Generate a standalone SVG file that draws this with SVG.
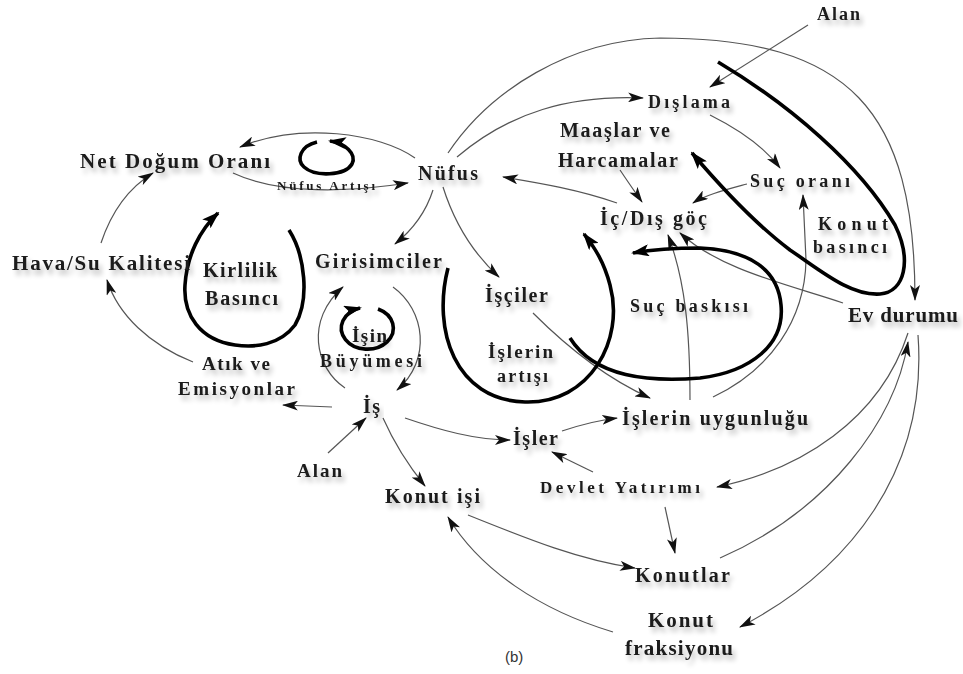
<svg xmlns="http://www.w3.org/2000/svg" width="963" height="674" viewBox="0 0 963 674">
<style>
.lbl{font-family:"Liberation Serif","Times New Roman",serif;font-weight:bold;fill:#1a1a1a;filter:url(#sh)}
.thin{fill:none;stroke:#555;stroke-width:1.2;marker-end:url(#ah)}
.thick{fill:none;stroke:#000;stroke-width:3.6;marker-end:url(#ahb)}
.cap{font-family:"Liberation Sans",Arial,sans-serif;font-size:15px;fill:#333}
</style>
<defs>
<filter id="sh" x="-10%" y="-30%" width="130%" height="190%">
<feGaussianBlur in="SourceAlpha" stdDeviation="2.5" result="b"/>
<feOffset dx="3" dy="5" result="o"/>
<feComponentTransfer in="o" result="c"><feFuncA type="linear" slope="0.25"/></feComponentTransfer>
<feMerge><feMergeNode in="c"/><feMergeNode in="SourceGraphic"/></feMerge>
</filter>
<marker id="ah" viewBox="0 0 16 10" refX="15" refY="5" markerWidth="16" markerHeight="10" markerUnits="userSpaceOnUse" orient="auto">
<path d="M0,0 L16,5 L0,10 L4,5 z" fill="#111"/>
</marker>
<marker id="ahb" viewBox="0 0 18 12" refX="16" refY="6" markerWidth="18" markerHeight="12" markerUnits="userSpaceOnUse" orient="auto">
<path d="M0,0 L18,6 L0,12 L4,6 z" fill="#000"/>
</marker>
</defs>
<rect width="963" height="674" fill="#fff"/>

<g id="connectors">
<path class="thin" d="M415,158 C380,133 300,122 240,147"/>
<path class="thin" d="M233,173 C280,195 350,192 408,183"/>
<path class="thin" d="M101,243 C112,210 130,187 153,173"/>
<path class="thin" d="M193,362 C150,345 118,315 107,280"/>
<path class="thin" d="M332,407 L283,405"/>
<path class="thin" d="M345,388 C315,368 305,320 343,287"/>
<path class="thin" d="M393,287 C425,310 432,360 397,390"/>
<path class="thin" d="M433,190 C425,215 410,232 395,244"/>
<path class="thin" d="M443,187 C455,225 475,255 499,277"/>
<path class="thin" d="M457,157 C510,112 570,95 643,98"/>
<path class="thin" d="M448,153 C490,90 570,40 660,38 C850,38 915,110 915,300"/>
<path class="thin" d="M808,25 L710,87"/>
<path class="thin" d="M710,115 C740,130 765,148 780,168"/>
<path class="thin" d="M747,184 C725,190 705,195 693,203"/>
<path class="thin" d="M620,170 C628,182 635,192 642,202"/>
<path class="thin" d="M617,203 C580,190 540,183 503,177"/>
<path class="thin" d="M533,313 C570,350 610,380 650,398"/>
<path class="thin" d="M405,418 C440,430 475,440 510,440"/>
<path class="thin" d="M562,431 C580,425 600,420 617,418"/>
<path class="thin" d="M593,472 L552,452"/>
<path class="thin" d="M383,418 C395,445 408,465 425,486"/>
<path class="thin" d="M328,453 L366,418"/>
<path class="thin" d="M468,515 C530,540 580,560 635,568"/>
<path class="thin" d="M613,632 C540,610 480,570 448,517"/>
<path class="thin" d="M665,507 L675,553"/>
<path class="thin" d="M908,333 C880,420 800,470 717,487"/>
<path class="thin" d="M720,558 C830,510 895,420 908,342"/>
<path class="thin" d="M918,335 C928,470 850,570 740,627"/>
<path class="thin" d="M843,303 C790,285 720,270 680,233"/>
<path class="thin" d="M690,400 C690,330 685,280 668,235"/>
<path class="thin" d="M713,397 C770,370 805,320 806,260 L803,195"/>

<path class="thick" d="M289,230 C305,255 310,300 295,325 C280,345 255,348 235,345 C200,340 183,315 185,285 C187,255 200,230 218,213"/>
<path class="thick" d="M317,142 C300,146 296,160 304,167 C315,177 345,176 352,164 C357,154 345,143 330,141"/>
<path class="thick" d="M378,309 A26,21 0 1 1 360,308"/>
<path class="thick" d="M718,62 C790,105 860,165 895,225 C912,260 905,292 880,294 C850,296 820,270 790,250 C750,220 715,180 692,153"/>
<path class="thick" d="M570,338 C595,378 650,382 700,378 C750,372 785,345 781,305 C778,270 750,250 700,248 C670,248 650,250 633,253"/>
<path class="thick" d="M448,268 C432,330 455,400 525,402 C590,404 625,340 610,285 C604,262 595,248 584,234"/>
</g>

<g id="alan-top"><text class="lbl" x="817" y="20" font-size="18" textLength="43" lengthAdjust="spacing">Alan</text></g>
<g id="dislama"><text class="lbl" x="648" y="108" font-size="18" textLength="82" lengthAdjust="spacing">Dışlama</text></g>
<g id="maaslar"><text class="lbl" x="560" y="137" font-size="20" textLength="110" lengthAdjust="spacing">Maaşlar ve</text><text class="lbl" x="558" y="167" font-size="20" textLength="120" lengthAdjust="spacing">Harcamalar</text></g>
<g id="net-dogum"><text class="lbl" x="80" y="168" font-size="21" textLength="190" lengthAdjust="spacing">Net Doğum Oranı</text></g>
<g id="nufus-artisi"><text class="lbl" x="277" y="190" font-size="13" textLength="98" lengthAdjust="spacing">Nüfus Artışı</text></g>
<g id="nufus"><text class="lbl" x="418" y="180" font-size="20" textLength="60" lengthAdjust="spacing">Nüfus</text></g>
<g id="suc-orani"><text class="lbl" x="750" y="187" font-size="18" textLength="100" lengthAdjust="spacing">Suç oranı</text></g>
<g id="ic-dis-goc"><text class="lbl" x="600" y="225" font-size="20" textLength="107" lengthAdjust="spacing">İç/Dış göç</text></g>
<g id="konut-basinci"><text class="lbl" x="818" y="230" font-size="18" textLength="70" lengthAdjust="spacing">Konut</text><text class="lbl" x="813" y="253" font-size="18" textLength="74" lengthAdjust="spacing">basıncı</text></g>
<g id="hava-su"><text class="lbl" x="12" y="270" font-size="21" textLength="178" lengthAdjust="spacing">Hava/Su Kalitesi</text></g>
<g id="kirlilik"><text class="lbl" x="203" y="277" font-size="20" textLength="74" lengthAdjust="spacing">Kirlilik</text><text class="lbl" x="205" y="305" font-size="20" textLength="73" lengthAdjust="spacing">Basıncı</text></g>
<g id="girisimciler"><text class="lbl" x="315" y="268" font-size="20" textLength="127" lengthAdjust="spacing">Girisimciler</text></g>
<g id="isciler"><text class="lbl" x="485" y="302" font-size="20" textLength="63" lengthAdjust="spacing">İşçiler</text></g>
<g id="suc-baskisi"><text class="lbl" x="630" y="312" font-size="18" textLength="118" lengthAdjust="spacing">Suç baskısı</text></g>
<g id="ev-durumu"><text class="lbl" x="848" y="322" font-size="21" textLength="110" lengthAdjust="spacing">Ev durumu</text></g>
<g id="isin-buyumesi"><text class="lbl" x="352" y="342" font-size="19" textLength="35" lengthAdjust="spacing">İşin</text><text class="lbl" x="320" y="367" font-size="18" textLength="102" lengthAdjust="spacing">Büyümesi</text></g>
<g id="islerin-artisi"><text class="lbl" x="488" y="358" font-size="19" textLength="65" lengthAdjust="spacing">İşlerin</text><text class="lbl" x="497" y="382" font-size="18" textLength="51" lengthAdjust="spacing">artışı</text></g>
<g id="atik"><text class="lbl" x="202" y="370" font-size="19" textLength="68" lengthAdjust="spacing">Atık ve</text><text class="lbl" x="178" y="395" font-size="19" textLength="117" lengthAdjust="spacing">Emisyonlar</text></g>
<g id="is"><text class="lbl" x="363" y="413" font-size="20" textLength="17" lengthAdjust="spacing">İş</text></g>
<g id="islerin-uygunlugu"><text class="lbl" x="622" y="425" font-size="20" textLength="186" lengthAdjust="spacing">İşlerin uygunluğu</text></g>
<g id="isler"><text class="lbl" x="513" y="445" font-size="20" textLength="45" lengthAdjust="spacing">İşler</text></g>
<g id="alan-bottom"><text class="lbl" x="297" y="477" font-size="19" textLength="45" lengthAdjust="spacing">Alan</text></g>
<g id="devlet"><text class="lbl" x="540" y="493" font-size="17" textLength="160" lengthAdjust="spacing">Devlet Yatırımı</text></g>
<g id="konut-isi"><text class="lbl" x="385" y="503" font-size="20" textLength="95" lengthAdjust="spacing">Konut işi</text></g>
<g id="konutlar"><text class="lbl" x="635" y="582" font-size="20" textLength="95" lengthAdjust="spacing">Konutlar</text></g>
<g id="konut-fraksiyonu"><text class="lbl" x="648" y="627" font-size="21" textLength="65" lengthAdjust="spacing">Konut</text><text class="lbl" x="625" y="655" font-size="21" textLength="108" lengthAdjust="spacing">fraksiyonu</text></g>
<text class="cap" x="505" y="662">(b)</text>
</svg>
